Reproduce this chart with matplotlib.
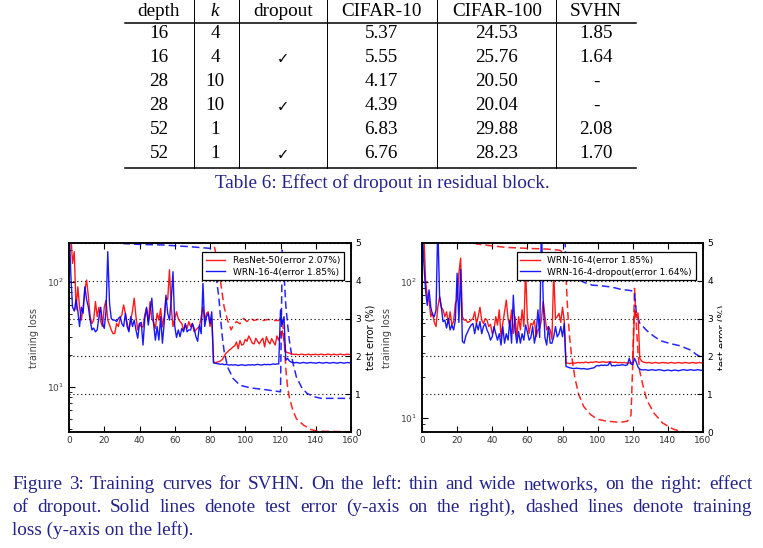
import numpy as np
import matplotlib
matplotlib.use("Agg")
import matplotlib.pyplot as plt
from matplotlib.transforms import Bbox, IdentityTransform, TransformedBbox

# ---------------- table data ----------------
tab_header = ["depth", "k", "dropout", "CIFAR-10", "CIFAR-100", "SVHN"]
tab_depth = ["16", "16", "28", "28", "52", "52"]
tab_k = ["4", "4", "10", "10", "1", "1"]
tab_dropout = ["", "\u2713", "", "\u2713", "", "\u2713"]
tab_c10 = ["5.37", "5.55", "4.17", "4.39", "6.83", "6.76"]
tab_c100 = ["24.53", "25.76", "20.50", "20.04", "29.88", "28.23"]
tab_svhn = ["1.85", "1.64", "-", "-", "2.08", "1.70"]
table_caption = "Table 6: Effect of dropout in residual block."

fig_caption = [
    "Figure 3: Training curves for SVHN. On the left: thin and wide networks, on the right: effect",
    "of dropout.  Solid lines denote test error (y-axis on the right), dashed lines denote training",
    "loss (y-axis on the left).",
]

# ---------------- left plot: test error (solid, right axis) ----------------
left_red_err = [
    5.6, 5.3, 4.46, 4.77, 3.23, 3.84, 3.3, 2.96, 3.3, 3.76,
    4.02, 3.58, 3.05, 2.87, 2.96, 3.45, 3.05, 3.3, 2.92, 2.79,
    3.3, 3.48, 2.96, 2.83, 2.7, 2.6, 2.61, 2.87, 2.79, 3.0,
    3.1, 3.36, 3.14, 2.87, 2.7, 2.96, 3.2, 3.54, 3.05, 2.7,
    2.87, 2.79, 2.78, 3.1, 3.27, 2.92, 3.45, 3.0, 2.9, 2.74,
    3.14, 2.96, 3.27, 2.78, 3.05, 3.54, 3.5, 4.29, 3.31, 2.79,
    3.0, 3.18, 3.0, 2.92, 2.87, 2.7, 2.83, 2.74, 2.92, 2.79,
    2.87, 2.65, 2.7, 2.75, 2.79, 3.05, 3.31, 2.96, 3.14, 3.18,
    2.79, 3.0, 1.85, 1.83, 1.85, 1.86, 1.88, 1.92, 2.0, 2.08,
    2.12, 2.17, 2.2, 2.25, 2.28, 2.38, 2.2, 2.42, 2.3, 2.32,
    2.45, 2.4, 2.54, 2.45, 2.35, 2.33, 2.48, 2.4, 2.33, 2.42,
    2.48, 2.25, 2.52, 2.4, 2.33, 2.47, 2.38, 2.3, 2.54, 2.43,
    2.6, 2.68, 2.4, 2.12, 2.1, 2.09, 2.07, 2.06, 2.05, 2.06,
    2.04, 2.05, 2.06, 2.05, 2.04, 2.05, 2.06, 2.04, 2.05, 2.05,
    2.06, 2.04, 2.05, 2.06, 2.05, 2.04, 2.05, 2.06, 2.05, 2.04,
    2.06, 2.05, 2.04, 2.05, 2.06, 2.05, 2.04, 2.05, 2.06, 2.05,
    2.04,
]
left_blue_err = [
    5.6, 4.2, 3.3, 3.2, 3.5, 3.2, 2.79, 3.3, 3.14, 3.84,
    3.5, 3.3, 2.96, 2.7, 2.75, 2.65, 2.7, 3.05, 3.3, 2.87,
    2.74, 3.2, 4.77, 3.4, 3.0, 2.96, 2.96, 2.92, 3.0, 3.05,
    2.87, 2.79, 3.14, 2.79, 2.65, 3.05, 2.79, 2.96, 2.7, 2.48,
    2.87, 2.9, 2.3, 3.0, 3.3, 2.83, 3.2, 3.54, 2.87, 2.43,
    2.79, 2.43, 3.05, 2.35, 2.87, 3.62, 3.14, 2.96, 3.5, 4.24,
    2.8, 2.5, 2.7, 2.52, 2.74, 2.65, 2.87, 2.65, 2.7, 2.7,
    2.87, 2.74, 2.52, 2.4, 2.83, 2.6, 3.93, 2.79, 3.05, 3.14,
    2.87, 3.18, 1.83, 1.82, 1.81, 1.80, 1.79, 1.80, 1.78, 1.79,
    1.78, 1.77, 1.78, 1.77, 1.78, 1.77, 1.76, 1.77, 1.78, 1.77,
    1.76, 1.77, 1.78, 1.77, 1.78, 1.77, 1.78, 1.79, 1.78, 1.77,
    1.78, 1.79, 1.78, 1.79, 1.78, 1.79, 1.80, 1.79, 1.80, 1.80,
    3.23, 2.85, 3.05, 1.9, 1.95, 1.88, 1.85, 1.84, 1.83, 1.84,
    1.83, 1.82, 1.83, 1.84, 1.83, 1.82, 1.83, 1.84, 1.83, 1.83,
    1.82, 1.83, 1.84, 1.83, 1.82, 1.83, 1.84, 1.83, 1.82, 1.83,
    1.84, 1.83, 1.82, 1.83, 1.84, 1.83, 1.82, 1.83, 1.84, 1.83,
    1.83,
]

# ---------------- left plot: training loss (dashed, log left axis) ----------------
left_red_loss_ep = [0, 40, 80, 82, 84, 86, 88, 90, 92, 93, 95, 97, 99, 101, 103, 105,
                    107, 110, 113, 116, 119, 120, 121, 122, 123, 124, 125, 127, 129,
                    133, 137, 141, 160]
left_red_loss = [900, 600, 400, 240, 162, 100, 58, 43, 35, 38, 42, 40, 45, 42, 45, 43,
                 44, 43, 44, 43, 43, 45, 44, 30, 15, 10, 8, 6, 5,
                 4.35, 3.95, 3.8, 3.75]
left_blue_loss_ep = [0, 15, 28, 31, 40, 53, 68, 80, 81, 83, 85, 86, 87, 88, 90, 93,
                     97, 103, 110, 118, 120, 121, 122, 123, 124, 125, 127, 129, 132,
                     135, 139, 143, 160]
left_blue_loss = [900, 500, 260, 232, 228, 225, 217, 209, 200, 130, 72, 45, 30, 22, 15.5, 12.1,
                  10.4, 9.8, 9.5, 9.1, 9.0, 200, 120, 60, 40, 28, 17, 12.5, 9.9,
                  8.7, 8.1, 7.8, 7.8]

# ---------------- right plot: test error (solid, right axis) ----------------
right_red_err = [
    5.6, 5.4, 4.02, 3.58, 3.5, 3.05, 3.15, 2.9, 2.79, 3.3,
    3.58, 3.3, 3.23, 3.05, 3.18, 2.87, 3.18, 2.83, 2.92, 3.4,
    3.5, 4.2, 4.6, 3.05, 2.96, 2.96, 2.9, 2.92, 2.96, 3.0,
    3.18, 2.87, 3.05, 3.3, 2.96, 2.87, 3.0, 2.96, 2.79, 2.85,
    2.6, 2.7, 3.05, 2.83, 3.23, 2.52, 2.87, 3.18, 3.49, 3.0,
    2.79, 3.23, 2.61, 3.05, 2.52, 3.05, 2.7, 3.23, 2.79, 4.3,
    2.96, 2.61, 2.87, 2.83, 2.96, 2.52, 2.7, 2.74, 2.96, 3.45,
    3.05, 2.7, 2.79, 2.7, 2.45, 4.25, 3.0, 3.05, 3.14, 2.9,
    3.3, 2.95, 1.82, 1.82, 1.81, 1.82, 1.83, 1.82, 1.83, 1.84,
    1.83, 1.84, 1.83, 1.85, 1.84, 1.83, 1.85, 1.84, 1.85, 1.86,
    1.85, 1.84, 1.85, 1.86, 1.85, 1.84, 1.85, 1.86, 1.85, 1.84,
    1.85, 1.84, 1.83, 1.84, 1.83, 1.84, 1.83, 1.82, 1.83, 1.82,
    1.85, 3.23, 3.05, 3.15, 1.95, 1.88, 1.85, 1.84, 1.83, 1.84,
    1.83, 1.82, 1.83, 1.84, 1.83, 1.82, 1.83, 1.84, 1.83, 1.83,
    1.82, 1.83, 1.84, 1.83, 1.82, 1.83, 1.84, 1.83, 1.82, 1.83,
    1.84, 1.83, 1.82, 1.83, 1.84, 1.83, 1.82, 1.83, 1.84, 1.83,
    1.83,
]
right_blue_err = [
    5.6, 4.5, 3.76, 3.35, 3.76, 3.3, 3.1, 3.05, 3.23, 5.5,
    3.6, 3.3, 2.92, 2.96, 2.75, 3.0, 2.7, 2.83, 2.7, 2.96,
    4.2, 2.9, 4.3, 2.4, 2.35, 2.55, 2.65, 2.75, 2.83, 2.87,
    2.6, 2.87, 2.7, 2.92, 2.6, 2.79, 2.87, 2.7, 2.6, 2.43,
    2.52, 2.79, 2.6, 2.43, 2.6, 2.3, 2.79, 2.35, 2.6, 2.43,
    2.96, 2.35, 3.62, 2.7, 2.35, 2.66, 2.35, 2.6, 2.43, 2.83,
    2.65, 2.43, 2.5, 2.79, 2.35, 2.6, 3.23, 2.5, 5.5, 3.5,
    2.5, 2.3, 2.79, 2.35, 2.35, 2.52, 2.79, 2.52, 2.6, 2.79,
    2.52, 2.87, 1.73, 1.72, 1.70, 1.69, 1.68, 1.68, 1.69, 1.68,
    1.68, 1.67, 1.68, 1.67, 1.66, 1.67, 1.68, 1.69, 1.70, 1.74,
    1.76, 1.75, 1.77, 1.76, 1.77, 1.76, 1.77, 1.85, 1.75, 1.76,
    1.75, 1.77, 1.76, 1.77, 1.78, 1.77, 1.76, 1.78, 1.95, 1.80,
    1.78, 1.95, 1.85, 1.72, 1.66, 1.65, 1.64, 1.65, 1.64, 1.63,
    1.64, 1.65, 1.64, 1.63, 1.64, 1.65, 1.64, 1.63, 1.62, 1.63,
    1.64, 1.63, 1.62, 1.63, 1.64, 1.63, 1.62, 1.63, 1.64, 1.65,
    1.64, 1.63, 1.64, 1.65, 1.64, 1.63, 1.64, 1.65, 1.64, 1.63,
    1.64,
]

# ---------------- right plot: training loss (dashed) ----------------
right_red_loss_ep = [0, 20, 30, 31, 38, 48, 61, 71, 78, 81, 82, 83, 84, 85, 87, 89, 92,
                     96, 100, 105, 113, 117, 119, 120, 121, 122, 123, 124, 126, 128, 132,
                     137, 143, 147, 150, 160]
right_red_loss = [900, 400, 200, 191, 186, 180, 177, 175, 172, 165, 110, 60, 40, 30, 20, 15.2, 12.2,
                  10.6, 9.8, 9.5, 9.3, 9.5, 10.5, 25, 90, 50, 30, 22, 17, 13.6, 10.9,
                  9.2, 8.3, 8.0, 7.9, 7.85]
right_blue_loss_ep = [0, 80, 81, 82, 85, 88, 92, 97, 102, 108, 114, 118, 120, 121, 122,
                      124, 128, 132, 136, 141, 147, 153, 156, 160]
right_blue_loss = [900, 500, 300, 130, 115, 106, 100, 95, 94, 92, 88, 87, 86, 84, 60,
                   50, 44, 40, 37, 35.4, 34, 31.6, 29.5, 27.5]

left_labels = ["ResNet-50(error 2.07%)", "WRN-16-4(error 1.85%)"]
right_labels = ["WRN-16-4(error 1.85%)", "WRN-16-4-dropout(error 1.64%)"]

W, H = 763, 548
fig = plt.figure(figsize=(W / 100, H / 100), dpi=100)
navy = "#22228a"
serif = ["Liberation Serif", "DejaVu Serif"]
fs = 13.8

# overlay axes in pixel coordinates for the table and captions
page = fig.add_axes([0, 0, 1, 1], zorder=-1)
page.set_xlim(0, W)
page.set_ylim(H, 0)
page.axis("off")

col_x = [159, 215, 283, 381, 497, 596]
row_y = [34, 58, 82, 106, 130, 154]
vlines = [194, 239, 327, 437, 556]
for x, h in zip(col_x, tab_header):
    page.text(x, 11, h, ha="center", va="center", fontsize=fs, family=serif,
              style="italic" if h == "k" else "normal")
columns = [tab_depth, tab_k, tab_dropout, tab_c10, tab_c100, tab_svhn]
for x, col in zip(col_x, columns):
    for y, val in zip(row_y, col):
        if val == "\u2713":
            page.text(x, y + 1, val, ha="center", va="center", fontsize=10.5,
                      family=["DejaVu Sans"])
        else:
            page.text(x, y, val, ha="center", va="center", fontsize=fs, family=serif)
page.plot([125, 636], [23, 23], color="k", lw=1.1)
page.plot([125, 636], [168, 168], color="k", lw=1.1)
for x in vlines:
    page.plot([x, x], [0, 168], color="k", lw=0.7)
page.text(382, 183, table_caption, ha="center", va="center", fontsize=fs,
          family=serif, color=navy)

# justified figure caption: measure the words first, then place them
renderer = fig.canvas.get_renderer()
cap_base = [489, 512, 535]
for i, (line, y) in enumerate(zip(fig_caption, cap_base)):
    if i == len(fig_caption) - 1:
        page.text(12, y, line, ha="left", va="baseline", fontsize=fs, family=serif,
                  color=navy)
        continue
    words = line.split()
    widths = []
    for w in words:
        probe = page.text(0, y, w, fontsize=fs, family=serif)
        widths.append(probe.get_window_extent(renderer).width)
        probe.remove()
    gap = (752 - 12 - sum(widths)) / (len(words) - 1)
    x = 12
    for w, wd in zip(words, widths):
        page.text(x, y, w, ha="left", va="baseline", fontsize=fs, family=serif, color=navy)
        x += wd + gap


def make_panel(rect, red_err, blue_err, red_ep, red_loss, blue_ep, blue_loss,
               ylim, labels, legend_anchor):
    ax = fig.add_axes(rect)
    ax2 = ax.twinx()
    ep = np.arange(len(red_err))
    dash = (0, (5, 2.6))
    ax.plot(red_ep, red_loss, color="red", lw=1.1, ls=dash, alpha=0.85)
    ax.plot(blue_ep, blue_loss, color="blue", lw=1.1, ls=dash, alpha=0.85)
    ax.set_yscale("log")
    ax.set_ylim(*ylim)
    ax.set_xlim(0, 160)
    ax.set_xticks(np.arange(0, 161, 20))
    ax.set_ylabel("training loss", fontsize=7, color="#444444", labelpad=6)
    ax.tick_params(axis="y", which="both", direction="in", labelsize=6.5,
                   labelcolor="#444444")
    ax.tick_params(axis="y", which="major", length=4)
    ax.tick_params(axis="y", which="minor", length=2)
    ax.tick_params(axis="x", direction="in", top=True, labelsize=6.5, length=4,
                   labelcolor="#333333", pad=3)

    ax2.plot(ep, red_err, color="red", lw=1.0, alpha=0.9, label=labels[0])
    ax2.plot(ep, blue_err, color="blue", lw=1.0, alpha=0.9, label=labels[1])
    ax2.set_ylim(0, 5)
    ax2.set_yticks(range(6))
    ax2.tick_params(axis="y", direction="in", labelsize=6.5, length=4, pad=3)
    ax2.set_ylabel("test error (%)", fontsize=7, labelpad=3)
    ax2.grid(axis="y", color="k", ls=(0, (1, 2.5)), lw=0.8)
    leg = ax2.legend(loc="upper right", fontsize=6.5, frameon=True, fancybox=False,
                     edgecolor="k", framealpha=1, handlelength=2.2, borderpad=0.4,
                     labelspacing=0.3, bbox_to_anchor=legend_anchor)
    leg.get_frame().set_linewidth(0.9)
    for a in (ax, ax2):
        for s in a.spines.values():
            s.set_linewidth(1.1)
    return ax, ax2


make_panel([69 / W, 1 - 432 / H, 282 / W, 189 / H], left_red_err, left_blue_err,
           left_red_loss_ep, left_red_loss, left_blue_loss_ep, left_blue_loss,
           (3.73, 235), left_labels, (0.99, 0.975))
_, rax2 = make_panel([422 / W, 1 - 432 / H, 281 / W, 189 / H], right_red_err, right_blue_err,
                     right_red_loss_ep, right_red_loss, right_blue_loss_ep, right_blue_loss,
                     (7.9, 194), right_labels, (0.99, 0.975))
# the right panel's axis label is cut at the page edge in the source
clip = TransformedBbox(Bbox([[0, 0], [722, H]]), IdentityTransform())
rax2.yaxis.label.set_clip_box(clip)
rax2.yaxis.label.set_clip_on(True)

fig.savefig("out.png", dpi=100)
